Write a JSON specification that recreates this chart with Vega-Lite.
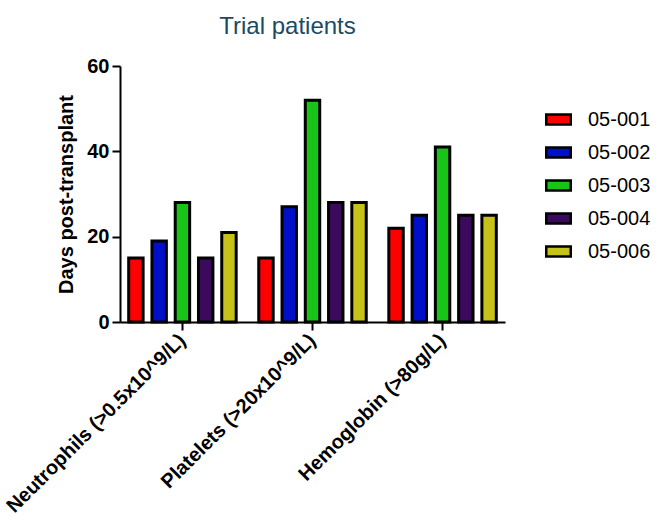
{
  "$schema": "https://vega.github.io/schema/vega-lite/v6.json",
  "width": 385,
  "height": 256,
  "autosize": {"type": "none"},
  "padding": {"left": 120, "top": 66, "right": 151, "bottom": 194},
  "background": "white",
  "title": {"text": "Trial patients", "font": "Liberation Sans", "fontSize": 24, "fontWeight": "normal", "color": "#1d4a63", "anchor": "middle", "dx": -25, "offset": 17},
  "data": {"values": [
    {"measure": "Neutrophils (>0.5x10^9/L)", "patient": "05-001", "days": 15},
    {"measure": "Neutrophils (>0.5x10^9/L)", "patient": "05-002", "days": 19},
    {"measure": "Neutrophils (>0.5x10^9/L)", "patient": "05-003", "days": 28},
    {"measure": "Neutrophils (>0.5x10^9/L)", "patient": "05-004", "days": 15},
    {"measure": "Neutrophils (>0.5x10^9/L)", "patient": "05-006", "days": 21},
    {"measure": "Platelets (>20x10^9/L)", "patient": "05-001", "days": 15},
    {"measure": "Platelets (>20x10^9/L)", "patient": "05-002", "days": 27},
    {"measure": "Platelets (>20x10^9/L)", "patient": "05-003", "days": 52},
    {"measure": "Platelets (>20x10^9/L)", "patient": "05-004", "days": 28},
    {"measure": "Platelets (>20x10^9/L)", "patient": "05-006", "days": 28},
    {"measure": "Hemoglobin (>80g/L)", "patient": "05-001", "days": 22},
    {"measure": "Hemoglobin (>80g/L)", "patient": "05-002", "days": 25},
    {"measure": "Hemoglobin (>80g/L)", "patient": "05-003", "days": 41},
    {"measure": "Hemoglobin (>80g/L)", "patient": "05-004", "days": 25},
    {"measure": "Hemoglobin (>80g/L)", "patient": "05-006", "days": 25}
  ]},
  "mark": {"type": "bar", "stroke": "black", "strokeWidth": 3},
  "encoding": {
    "x": {
      "field": "measure", "type": "nominal", "sort": null,
      "scale": {"paddingInner": 0.12, "paddingOuter": 0.04},
      "axis": {"title": null, "labelAngle": -45, "labelAlign": "right", "labelBaseline": "middle", "labelFont": "Liberation Sans", "labelFontWeight": "bold", "labelFontSize": 20, "labelColor": "black", "labelPadding": 7, "labelLimit": 400, "domainColor": "black", "domainWidth": 2, "tickColor": "black", "tickWidth": 2, "tickSize": 8, "grid": false}
    },
    "xOffset": {"field": "patient", "type": "nominal", "scale": {"paddingInner": 0.38, "paddingOuter": 0.15}},
    "y": {
      "field": "days", "type": "quantitative",
      "scale": {"domain": [0, 60], "nice": false},
      "axis": {"title": "Days post-transplant", "values": [0, 20, 40, 60], "titleFont": "Liberation Sans", "titleFontSize": 20, "titleFontWeight": "bold", "titleColor": "black", "titlePadding": 10, "labelFont": "Liberation Sans", "labelFontWeight": "bold", "labelFontSize": 20, "labelColor": "black", "labelPadding": 3, "domainColor": "black", "domainWidth": 2, "tickColor": "black", "tickWidth": 2, "tickSize": 8, "grid": false}
    },
    "color": {
      "field": "patient", "type": "nominal",
      "scale": {"domain": ["05-001", "05-002", "05-003", "05-004", "05-006"], "range": ["#ff0000", "#0010c8", "#18c418", "#3c0a5c", "#c6c21a"]},
      "legend": {"title": null, "orient": "none", "legendX": 425, "legendY": 40, "symbolType": "M-1,-0.4H1V0.4H-1Z", "symbolSize": 600, "symbolStrokeColor": "black", "symbolStrokeWidth": 2.5, "symbolOpacity": 1, "labelFont": "Liberation Sans", "labelFontSize": 20, "labelColor": "black", "labelOffset": 16, "rowPadding": 9}
    }
  },
  "config": {"view": {"stroke": null}}
}
